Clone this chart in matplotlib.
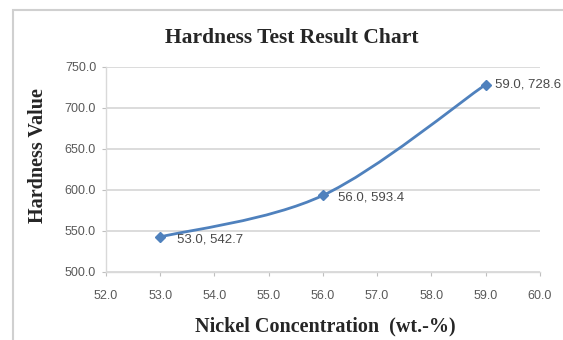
import numpy as np
import matplotlib.pyplot as plt
from matplotlib.path import Path
from matplotlib.patches import PathPatch, Rectangle

nickel = [53.0, 56.0, 59.0]
hardness = [542.7, 593.4, 728.6]
point_labels = ["53.0, 542.7", "56.0, 593.4", "59.0, 728.6"]

line_color = "#4F81BD"
tick_color = "#595959"


def smooth_path(xs, ys, t=1 / 6):
    # Excel-like smoothed line: cubic Bezier segments with Catmull-Rom tangents
    pts = np.column_stack([xs, ys])
    n = len(pts)
    verts = [pts[0]]
    codes = [Path.MOVETO]
    for i in range(n - 1):
        p0 = pts[i - 1] if i > 0 else pts[i]
        p1 = pts[i]
        p2 = pts[i + 1]
        p3 = pts[i + 2] if i + 2 < n else pts[i + 1]
        c1 = p1 + (p2 - p0) * t
        c2 = p2 - (p3 - p1) * t
        verts += [c1, c2, p2]
        codes += [Path.CURVE4] * 3
    return Path(verts, codes)


fig = plt.figure(figsize=(5.63, 3.4), dpi=100)
ax = fig.add_axes([0.188, 0.2, 0.771, 0.603])

# outer chart frame
fig.patches.append(Rectangle((13 / 563, -0.1), 1.2, 1 - 10 / 340 + 0.1,
                             transform=fig.transFigure, fill=False,
                             edgecolor="#d0d0d0", linewidth=1.5))

ax.add_patch(PathPatch(smooth_path(nickel, hardness), fill=False,
                       edgecolor=line_color, linewidth=2, zorder=3))
ax.plot(nickel, hardness, linestyle="none", marker="D", markersize=5,
        color=line_color, zorder=4)

offsets = [(12, -2), (11, -1.5), (7, 0)]
for x, y, lab, off in zip(nickel, hardness, point_labels, offsets):
    ax.annotate(lab, (x, y), xytext=off, textcoords="offset points",
                ha="left", va="center", fontsize=9.5, color="#4a4a4a",
                family="Liberation Sans", annotation_clip=False)

ax.set_xlim(52, 60)
ax.set_ylim(500, 750)
ax.set_xticks(np.arange(52, 60.5, 1))
ax.set_yticks(np.arange(500, 751, 50))
ax.set_xticklabels([f"{v:.1f}" for v in np.arange(52, 60.5, 1)])
ax.set_yticklabels([f"{v:.1f}" for v in np.arange(500, 751, 50)])
for lab in ax.get_xticklabels() + ax.get_yticklabels():
    lab.set_family("Liberation Sans")
ax.tick_params(labelsize=9, colors="#bfbfbf", labelcolor=tick_color,
               length=3, width=0.8)
ax.tick_params(axis="x", pad=10)
ax.tick_params(axis="y", pad=4)

ax.grid(axis="y", color="#d9d9d9", linewidth=1.3)
ax.set_axisbelow(True)
for s in ["top", "right"]:
    ax.spines[s].set_visible(False)
for s in ["left", "bottom"]:
    ax.spines[s].set_color("#d9d9d9")
    ax.spines[s].set_linewidth(1.0)

fig.text(0.518, 0.888, "Hardness Test Result Chart", ha="center", va="center",
         fontsize=15.5, fontweight="bold", family="Liberation Serif", color="#262626")
fig.text(0.577, 0.041, "Nickel Concentration  (wt.-%)", ha="center", va="center",
         fontsize=14.5, fontweight="bold", family="Liberation Serif", color="#262626")
fig.text(0.068, 0.541, "Hardness Value", ha="center", va="center", rotation=90,
         fontsize=14.5, fontweight="bold", family="Liberation Serif", color="#262626")

fig.savefig("out.png", dpi=100)
